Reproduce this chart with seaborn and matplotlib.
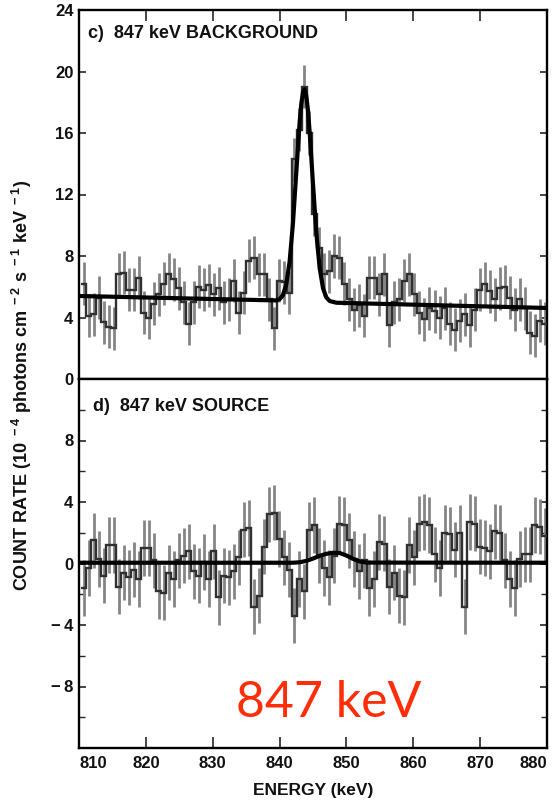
import numpy as np
import matplotlib
matplotlib.use("Agg")
import matplotlib.pyplot as plt
from matplotlib.ticker import FixedLocator
import seaborn as sns

sns.set_theme(style="ticks")
plt.rcParams["font.family"] = ["Liberation Sans", "DejaVu Sans"]
plt.rcParams["mathtext.fontset"] = "custom"
plt.rcParams["mathtext.default"] = "bf"
plt.rcParams["mathtext.bf"] = "Liberation Sans:bold"
plt.rcParams["mathtext.rm"] = "Liberation Sans:bold"

# ---- spectra: 0.75 keV channels starting at 810.3 keV ----
bin_start = 810.3
bin_width = 0.75

background_rate = [
    6.2, 4.1, 4.2, 5.3, 3.7, 3.4, 3.3, 6.8, 6.9, 5.8,
    5.8, 6.6, 4.3, 4.0, 4.9, 5.5, 6.2, 6.8, 6.5, 5.9,
    5.0, 3.6, 5.0, 6.0, 5.8, 6.1, 5.5, 5.9, 5.0, 5.2,
    6.4, 4.3, 5.6, 7.7, 7.9, 6.8, 6.8, 5.2, 3.3, 6.4,
    6.3, 5.6, 14.3, 16.2, 19.0, 16.0, 10.7, 8.5, 6.8, 7.0,
    8.0, 7.9, 6.2, 5.2, 4.5, 4.8, 4.1, 6.6, 6.6, 5.5,
    6.8, 3.5, 5.0, 5.2, 6.4, 6.8, 5.5, 4.3, 3.9, 4.6,
    4.4, 4.0, 4.6, 3.6, 3.2, 3.8, 4.2, 3.5, 4.5, 5.8,
    6.2, 5.7, 5.2, 5.9, 6.0, 5.3, 4.5, 5.2, 4.6, 3.0,
    2.8, 3.8, 3.6,
]
background_err = 1.4

source_rate = [
    -1.6, -0.3, 1.5, 0.3, -0.8, 1.2, 1.2, -1.5, -0.6, -0.9,
    -0.4, -1.0, 1.0, 1.0, 0.2, -1.8, -1.9, -0.6, -1.0, 0.2,
    0.5, 0.8, -0.5, -0.8, 0.1, -1.0, 0.8, -2.2, -0.8, -0.9,
    -0.5, 0.4, 2.2, 2.3, -2.8, -2.1, 1.1, 3.2, 3.3, 1.6,
    0.4, -0.4, -3.4, -1.0, -1.8, 2.2, 2.5, 0.5, -0.3, -0.9,
    0.5, 2.6, 2.5, 1.5, 0.3, -0.5, 0.2, -1.6, -1.0, 1.4,
    1.3, -1.5, -0.6, -2.1, -2.2, 1.2, 0.4, 2.6, 2.7, 2.5,
    0.6, -0.3, 2.0, 1.9, 0.9, 2.0, -2.8, 2.7, 2.6, 1.1,
    1.0, 0.8, 2.1, 2.0, 0.2, -1.0, -1.6, 0.3, 0.6, 0.6,
    2.5, 2.4, 1.8,
]
source_err = 1.8

# ---- fitted models (line + continuum) ----
bg_fit_energy = [810.0, 839.5, 840.0, 840.5, 841.0, 841.5, 842.0, 842.5, 843.0,
                 843.25, 843.5, 843.75, 844.0, 844.25, 844.5, 845.0, 845.5,
                 846.0, 846.5, 847.0, 847.5, 848.5, 880.0]
bg_fit_rate = [5.40, 5.11, 5.19, 5.45, 6.16, 7.63, 10.12, 13.43, 16.70,
               17.90, 18.64, 18.84, 18.40, 17.46, 16.07, 12.69, 9.49,
               7.20, 5.90, 5.30, 5.07, 4.96, 4.62]

src_fit_energy = [810.0, 842.0, 843.0, 844.0, 845.0, 846.0, 847.0, 848.0,
                  849.0, 850.0, 851.0, 852.0, 853.0, 880.0]
src_fit_rate = [0.05, 0.05, 0.08, 0.17, 0.32, 0.50, 0.63, 0.70,
                0.68, 0.52, 0.30, 0.13, 0.06, 0.05]

energy_ticks = [810, 820, 830, 840, 850, 860, 870, 880]
bg_yticks = [0, 4, 8, 12, 16, 20, 24]
src_yticks = [-8, -4, 0, 4, 8]

n_bins = len(background_rate)
edges = bin_start + bin_width * np.arange(n_bins + 1)
centers = 0.5 * (edges[:-1] + edges[1:])

fig = plt.figure(figsize=(5.52, 8.02), dpi=100)
left, right = 79 / 552, 547 / 552
ax_top = fig.add_axes([left, 1 - 379 / 802, right - left, (379 - 10) / 802])
ax_bot = fig.add_axes([left, 1 - 748 / 802, right - left, (748 - 379) / 802])

step_color = "#303030"
err_color = "#858585"


def draw_panel(ax, rate, err, fit_e, fit_r):
    ax.errorbar(centers, rate, yerr=err, fmt="none", ecolor=err_color,
                elinewidth=2.0, capsize=0, zorder=2)
    ax.stairs(rate, edges, baseline=None, color=step_color, linewidth=1.7,
              zorder=3)
    sns.lineplot(x=fit_e, y=fit_r, ax=ax, color="black", linewidth=3.0,
                 estimator=None, sort=False, zorder=4)
    ax.set_xlim(810, 880)
    ax.set_xlabel("")
    ax.set_ylabel("")
    for s in ax.spines.values():
        s.set_visible(True)
        s.set_linewidth(1.7)
        s.set_color("black")


draw_panel(ax_top, background_rate, background_err, bg_fit_energy, bg_fit_rate)
draw_panel(ax_bot, source_rate, source_err, src_fit_energy, src_fit_rate)

tick_font = dict(fontsize=12, fontweight="bold", color="#111111")

# top panel
ax_top.set_ylim(0, 24)
ax_top.yaxis.set_major_locator(FixedLocator(bg_yticks))
ax_top.set_yticklabels([str(v) for v in bg_yticks], **tick_font)
ax_top.xaxis.set_major_locator(FixedLocator(energy_ticks))
ax_top.tick_params(axis="x", which="both", direction="in", top=True,
                   bottom=False, labelbottom=False, length=8, width=1.2)
ax_top.tick_params(axis="y", which="both", direction="in", left=True,
                   right=True, length=5, width=1.2, pad=4)

# bottom panel
ax_bot.set_ylim(-12, 12)
ax_bot.yaxis.set_major_locator(FixedLocator(src_yticks))
ax_bot.yaxis.set_minor_locator(FixedLocator([-10, -6, -2, 2, 6, 10]))
ax_bot.set_yticklabels([str(v).replace("-", "\u2212\u2009") for v in src_yticks],
                       **tick_font)
ax_bot.xaxis.set_major_locator(FixedLocator(energy_ticks))
ax_bot.set_xticklabels([str(v) for v in energy_ticks], **tick_font)
ax_bot.tick_params(axis="x", which="both", direction="in", top=False,
                   bottom=True, length=8, width=1.2, pad=6)
ax_bot.tick_params(axis="y", which="major", direction="in", left=True,
                   right=True, length=5, width=1.2, pad=4)
ax_bot.tick_params(axis="y", which="minor", direction="in", left=True,
                   right=True, length=4, width=1.0)
xt = ax_bot.get_xticklabels()
xt[0].set_horizontalalignment("left")
xt[-1].set_horizontalalignment("right")

ax_top.text(0.02, 0.935, "c)  847 keV BACKGROUND", transform=ax_top.transAxes,
            fontsize=13, fontweight="bold", color="#111111", va="center")
ax_bot.text(0.03, 0.925, "d)  847 keV SOURCE", transform=ax_bot.transAxes,
            fontsize=13, fontweight="bold", color="#111111", va="center")

fig.text(0.04, 1 - 385 / 802,
         r"COUNT RATE (10$^{\ -4}$ photons cm$^{\ -2}$ s$^{\ -1}$ keV$^{\ -1}$)",
         rotation=90, ha="center", va="center", fontsize=13,
         fontweight="bold", color="#111111")
fig.text((left + right) / 2, 1 - 790 / 802, "ENERGY (keV)", ha="center",
         va="center", fontsize=12.5, fontweight="bold", color="#111111")

fig.text(329 / 552, 1 - 717 / 802, "847 keV", ha="center", va="baseline",
         fontsize=36, color="#ff2d08", family=["Lato", "DejaVu Sans"])

fig.savefig("out.png", dpi=100)
